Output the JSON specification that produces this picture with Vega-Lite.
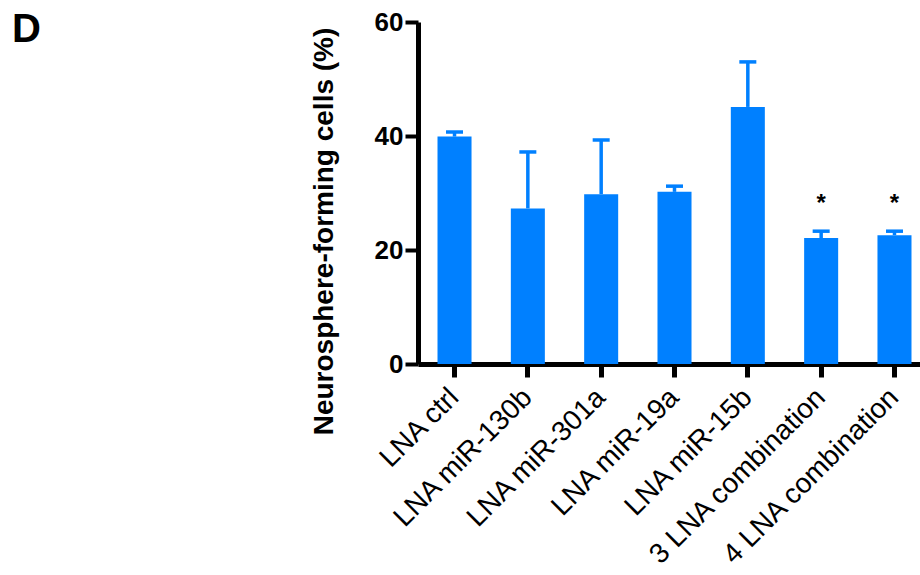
{
  "$schema": "https://vega.github.io/schema/vega-lite/v6.json",
  "autosize": {"type": "none"},
  "padding": {"left": 418, "top": 22, "right": 0, "bottom": 211},
  "width": 513,
  "height": 342,
  "background": "white",
  "config": {"view": {"stroke": null}},
  "title": {
    "text": "D",
    "anchor": "start",
    "frame": "group",
    "orient": "top",
    "offset": 0,
    "dx": -406,
    "dy": 73,
    "baseline": "alphabetic",
    "font": "Liberation Sans",
    "fontSize": 40,
    "fontWeight": "bold",
    "color": "black"
  },
  "data": {
    "values": [
      {"group": "LNA ctrl", "mean": 39.9, "upper": 40.7, "sig": ""},
      {"group": "LNA miR-130b", "mean": 27.3, "upper": 37.2, "sig": ""},
      {"group": "LNA miR-301a", "mean": 29.8, "upper": 39.3, "sig": ""},
      {"group": "LNA miR-19a", "mean": 30.2, "upper": 31.2, "sig": ""},
      {"group": "LNA miR-15b", "mean": 45.1, "upper": 53.0, "sig": ""},
      {"group": "3 LNA combination", "mean": 22.1, "upper": 23.3, "sig": "*"},
      {"group": "4 LNA combination", "mean": 22.6, "upper": 23.3, "sig": "*"}
    ]
  },
  "encoding": {
    "x": {
      "field": "group",
      "type": "nominal",
      "sort": null,
      "scale": {"paddingInner": 0.536, "paddingOuter": 0.266},
      "axis": {
        "title": null,
        "labelAngle": -45,
        "labelAlign": "right",
        "labelBaseline": "middle",
        "labelFont": "Liberation Sans",
        "labelFontSize": 28,
        "labelColor": "black",
        "labelPadding": 16,
        "labelLimit": 400,
        "domainColor": "black",
        "domainWidth": 5,
        "tickColor": "black",
        "tickWidth": 5,
        "tickSize": 13
      }
    }
  },
  "layer": [
    {
      "mark": {"type": "bar", "color": "#0080ff"},
      "encoding": {
        "y": {
          "field": "mean",
          "type": "quantitative",
          "scale": {"domain": [0, 60], "nice": false},
          "axis": {
            "title": "Neurosphere-forming cells (%)",
            "titleFont": "Liberation Sans",
            "titleFontSize": 28,
            "titleFontWeight": "bold",
            "titleColor": "black",
            "titleX": -94,
            "titleY": 209,
            "titleAlign": "center",
            "titleBaseline": "middle",
            "titleAngle": -90,
            "values": [0, 20, 40, 60],
            "grid": false,
            "labelFont": "Liberation Sans",
            "labelFontSize": 26,
            "labelFontWeight": "bold",
            "labelColor": "black",
            "labelPadding": 2,
            "domainColor": "black",
            "domainWidth": 5,
            "tickColor": "black",
            "tickWidth": 4,
            "tickSize": 13
          }
        }
      }
    },
    {
      "mark": {"type": "rule", "color": "#0080ff", "strokeWidth": 3.5, "opacity": 1},
      "encoding": {
        "y": {"field": "mean", "type": "quantitative"},
        "y2": {"field": "upper"}
      }
    },
    {
      "mark": {"type": "tick", "color": "#0080ff", "orient": "horizontal", "size": 17, "thickness": 3.5, "opacity": 1},
      "encoding": {
        "y": {"field": "upper", "type": "quantitative"}
      }
    },
    {
      "mark": {"type": "text", "font": "Liberation Sans", "fontSize": 24, "fontWeight": "bold", "color": "black", "baseline": "middle", "dy": -27},
      "encoding": {
        "y": {"field": "upper", "type": "quantitative"},
        "text": {"field": "sig"}
      }
    }
  ]
}
